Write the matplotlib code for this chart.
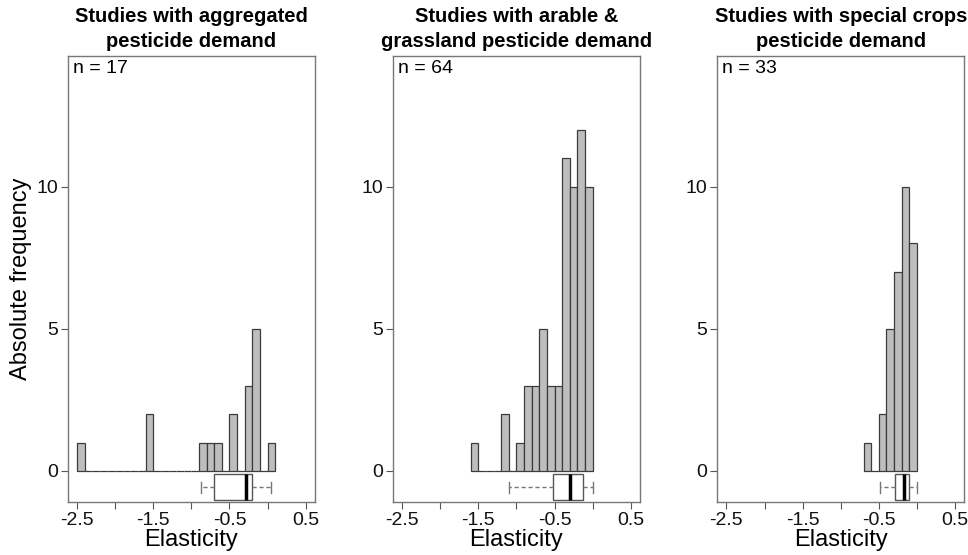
import numpy as np
import matplotlib
matplotlib.use('Agg')
import matplotlib.pyplot as plt

titles = [
    "Studies with aggregated\npesticide demand",
    "Studies with arable &\ngrassland pesticide demand",
    "Studies with special crops\npesticide demand",
]
n_labels = ["n = 17", "n = 64", "n = 33"]

bin_width = 0.1
# first bin edge and counts per bin (elasticity)
agg_start = -2.5
agg_counts = [1, 0, 0, 0, 0, 0, 0, 0, 0, 2, 0, 0, 0, 0, 0, 0, 1, 1, 1, 0, 2, 0, 3, 5, 0, 1]
arable_start = -1.6
arable_counts = [1, 0, 0, 0, 2, 0, 1, 3, 3, 5, 3, 3, 11, 10, 12, 10]
special_start = -0.7
special_counts = [1, 0, 2, 5, 7, 10, 8]

# boxplot summary: whisker low, q1, median, q3, whisker high
agg_box = [-0.87, -0.70, -0.28, -0.20, 0.05]
arable_box = [-1.10, -0.52, -0.30, -0.13, 0.0]
special_box = [-0.48, -0.29, -0.17, -0.10, 0.0]

xticks = [-2.5, -2.0, -1.5, -1.0, -0.5, 0.0, 0.5]
xticklabels = ["-2.5", "", "-1.5", "", "-0.5", "", "0.5"]
yticks = [0, 5, 10]

panels = [
    (agg_start, agg_counts, agg_box),
    (arable_start, arable_counts, arable_box),
    (special_start, special_counts, special_box),
]

plt.rcParams['font.family'] = ['Liberation Sans', 'DejaVu Sans']

fig = plt.figure(figsize=(9.68, 5.55), dpi=100)
lefts = [0.0702, 0.406, 0.741]
for i, (start, counts, box) in enumerate(panels):
    ax = fig.add_axes([lefts[i], 0.0955, 0.255, 0.804])
    edges = np.round(start + bin_width * np.arange(len(counts)), 2)
    ax.bar(edges, counts, width=bin_width, align='edge', color='#bebebe',
           edgecolor='#3c3c3c', linewidth=0.9, zorder=2)
    stats = [dict(whislo=box[0], q1=box[1], med=box[2], q3=box[3], whishi=box[4], fliers=[])]
    ax.bxp(stats, positions=[-0.57], widths=0.9, orientation='horizontal',
           patch_artist=True, showfliers=False, capwidths=0.4, manage_ticks=False,
           boxprops=dict(facecolor='white', edgecolor='#555555', linewidth=1),
           medianprops=dict(color='black', linewidth=2.5),
           whiskerprops=dict(color='#777777', linestyle=(0, (3, 2)), linewidth=1),
           capprops=dict(color='#777777', linewidth=1))
    ax.set_xlim(-2.62, 0.62)
    ax.set_ylim(-1.09, 14.6)
    ax.set_xticks(xticks)
    ax.set_xticklabels(xticklabels)
    ax.set_yticks(yticks)
    ax.tick_params(labelsize=14, colors='#555555', labelcolor='#111111', length=5, pad=2)
    for s in ax.spines.values():
        s.set_color('#777777')
        s.set_linewidth(1)
    ax.set_xlabel("Elasticity", fontsize=17, labelpad=0)
    ax.text(0.02, 0.99, n_labels[i], transform=ax.transAxes, ha='left', va='top', fontsize=14)
    ax.set_title(titles[i], fontsize=14.5, fontweight='bold', pad=6, linespacing=1.4)
    if i == 0:
        ax.set_ylabel("Absolute frequency", fontsize=17, labelpad=3)

fig.savefig("out.png", dpi=100)
